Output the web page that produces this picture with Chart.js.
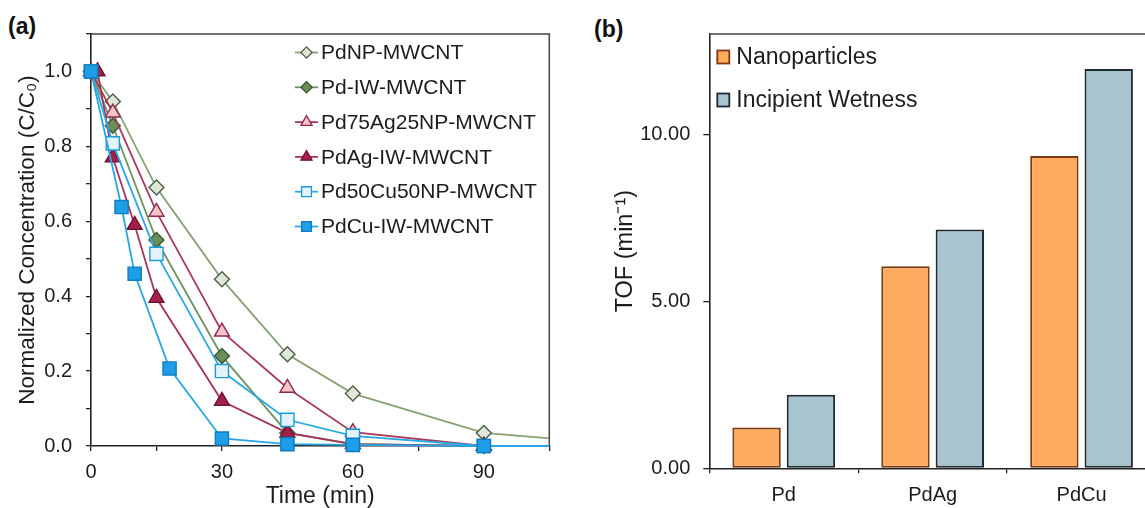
<!DOCTYPE html>
<html>
<head>
<meta charset="utf-8">
<script src="https://cdn.jsdelivr.net/npm/chart.js@4.4.1/dist/chart.umd.min.js"></script>
<style>
  html, body { margin: 0; padding: 0; background: #fff; overflow: hidden; }
  body { width: 1145px; height: 508px; position: relative; font-family: "Liberation Sans", Arial, sans-serif; }
  .panel { position: absolute; top: 0; height: 508px; }
  #left { left: 0; width: 560px; }
  #right { left: 560px; width: 600px; }
  .tag { position: absolute; font-weight: bold; font-size: 23px; line-height: 1; color: #111; }
</style>
</head>
<body>
<div class="tag" style="left:8px;top:15px">(a)</div>
<div class="tag" style="left:594px;top:18px">(b)</div>
<div class="panel" id="left"><canvas id="conc"></canvas></div>
<div class="panel" id="right"><canvas id="tof"></canvas></div>
<script>
// (a) normalized concentration vs time
const pdNpTime = [0, 5, 15, 30, 45, 60, 90, 120];
const pdNpConc = [1.0, 0.92, 0.69, 0.445, 0.245, 0.14, 0.035, 0.006];

const pdIwTime = [0, 5, 15, 30, 45, 60, 90, 120];
const pdIwConc = [1.0, 0.855, 0.55, 0.24, 0.035, 0.005, 0, 0];

const pdAgNpTime = [0, 5, 15, 30, 45, 60, 90, 120];
const pdAgNpConc = [1.0, 0.89, 0.625, 0.305, 0.155, 0.037, 0, 0];

const pdAgIwTime = [1.5, 5, 10, 15, 30, 45, 60, 90, 120];
const pdAgIwConc = [1.0, 0.77, 0.59, 0.395, 0.12, 0.035, 0.005, 0, 0];

const pdCuNpTime = [0, 5, 15, 30, 45, 60, 90, 120];
const pdCuNpConc = [1.0, 0.808, 0.513, 0.2, 0.07, 0.027, 0, 0];

const pdCuIwTime = [0, 7, 10, 18, 30, 45, 60, 90, 120];
const pdCuIwConc = [1.0, 0.638, 0.46, 0.207, 0.02, 0.005, 0.003, 0, 0];

// (b) turnover frequency
const catalysts = ["Pd", "PdAg", "PdCu"];
const tofNanoparticles = [1.22, 6.05, 9.35];
const tofIncipientWetness = [2.2, 7.15, 11.95];

const FONT = '"Liberation Sans", Arial, sans-serif';
const INK = "#1c1c1c";

function points(xs, ys) {
  return xs.map((x, i) => ({ x, y: ys[i] }));
}

function lineSet(label, xs, ys, line, style, fill, edge, r, order) {
  return {
    label,
    data: points(xs, ys),
    borderColor: line,
    borderWidth: 1.8,
    pointStyle: style,
    pointRadius: r,
    pointHoverRadius: r,
    pointBackgroundColor: fill,
    pointBorderColor: edge,
    pointBorderWidth: 1.4,
    tension: 0,
    order,
    clip: { left: false, top: false, right: 0, bottom: false }
  };
}

// top (and right) frame lines of the plot box
const frame = {
  id: "frame",
  afterDraw(chart, args, opts) {
    const { ctx, chartArea: a } = chart;
    ctx.save();
    ctx.strokeStyle = "#444";
    ctx.lineWidth = 1.5;
    ctx.beginPath();
    ctx.moveTo(a.left, a.top);
    ctx.lineTo(a.right, a.top);
    if (opts.right) ctx.lineTo(a.right, a.bottom);
    ctx.stroke();
    ctx.restore();
  }
};

// legend with a line through each marker, drawn inside the plot
const lineLegend = {
  id: "lineLegend",
  afterDatasetsDraw(chart) {
    const ctx = chart.ctx;
    const x0 = chart.chartArea.left + 204;
    chart.data.datasets.forEach((ds, i) => {
      const y = 52.5 + i * 34.8;
      ctx.save();
      ctx.strokeStyle = ds.borderColor;
      ctx.lineWidth = 1.8;
      ctx.beginPath();
      ctx.moveTo(x0, y);
      ctx.lineTo(x0 + 23, y);
      ctx.stroke();
      ctx.fillStyle = ds.pointBackgroundColor;
      ctx.strokeStyle = ds.pointBorderColor;
      ctx.lineWidth = 1.3;
      Chart.helpers.drawPoint(ctx, {
        pointStyle: ds.pointStyle,
        radius: ds.pointRadius * 0.75,
        rotation: 0,
        borderWidth: 1.3
      }, x0 + 11.5, y);
      ctx.fillStyle = INK;
      ctx.font = "21px " + FONT;
      ctx.textBaseline = "middle";
      ctx.fillText(ds.label, x0 + 26, y + 1);
      ctx.restore();
    });
  }
};

const barLegend = {
  id: "barLegend",
  afterDraw(chart) {
    const ctx = chart.ctx;
    const x0 = chart.chartArea.left + 8;
    chart.data.datasets.forEach((ds, i) => {
      const y = 57 + i * 43;
      ctx.save();
      ctx.fillStyle = ds.backgroundColor;
      ctx.strokeStyle = ds.borderColor;
      ctx.lineWidth = 1.8;
      ctx.fillRect(x0, y - 6.5, 12, 13);
      ctx.strokeRect(x0, y - 6.5, 12, 13);
      ctx.fillStyle = INK;
      ctx.font = "23px " + FONT;
      ctx.textBaseline = "middle";
      ctx.fillText(ds.label, x0 + 19, y + 1);
      ctx.restore();
    });
  }
};

const axisGrid = { drawOnChartArea: false, drawTicks: true, tickLength: 5, color: "#222", lineWidth: 1.3 };
const axisBorder = { color: "#222", width: 1.6 };

new Chart(document.getElementById("conc"), {
  type: "line",
  data: {
    datasets: [
      lineSet("PdNP-MWCNT", pdNpTime, pdNpConc, "#86a274", "rectRot", "#dfe7da", "#4d5e44", 7.5, 5),
      lineSet("Pd-IW-MWCNT", pdIwTime, pdIwConc, "#6f9262", "rectRot", "#6a8f5b", "#3d5734", 7.5, 4),
      lineSet("Pd75Ag25NP-MWCNT", pdAgNpTime, pdAgNpConc, "#a83a5c", "triangle", "#f7c4cc", "#8c2a48", 8.6, 3),
      lineSet("PdAg-IW-MWCNT", pdAgIwTime, pdAgIwConc, "#a5335a", "triangle", "#a3204b", "#6e1232", 8.6, 2),
      lineSet("Pd50Cu50NP-MWCNT", pdCuNpTime, pdCuNpConc, "#2aa9e2", "rect", "#e3f3fc", "#1b9ad8", 9.3, 1),
      lineSet("PdCu-IW-MWCNT", pdCuIwTime, pdCuIwConc, "#27a6e4", "rect", "#1d9ee6", "#0f7cc0", 9.3, 0)
    ]
  },
  options: {
    responsive: true,
    maintainAspectRatio: false,
    animation: false,
    layout: { padding: { left: 0, top: 34, right: 6, bottom: 0 } },
    plugins: { legend: { display: false }, tooltip: { enabled: false }, frame: { right: true } },
    scales: {
      x: {
        type: "linear",
        min: 0,
        max: 105,
        afterFit: s => { s.height = 62; },
        grid: axisGrid,
        border: axisBorder,
        ticks: {
          stepSize: 15,
          padding: 9,
          color: INK,
          font: { family: FONT, size: 20 },
          maxRotation: 0,
          autoSkip: false,
          callback: v => (v % 30 === 0 && v <= 90 ? String(v) : "")
        },
        title: {
          display: true,
          text: "Time (min)",
          color: INK,
          font: { family: FONT, size: 23, lineHeight: 1 },
          padding: { top: 0, bottom: 0 }
        }
      },
      y: {
        min: 0,
        max: 1.1,
        afterFit: s => { s.width = 91; },
        grid: axisGrid,
        border: axisBorder,
        ticks: {
          stepSize: 0.1,
          padding: 14,
          color: INK,
          font: { family: FONT, size: 20 },
          autoSkip: false,
          callback: v => {
            const k = Math.round(v * 10);
            return k % 2 === 0 && k <= 10 ? (k / 10).toFixed(1) : "";
          }
        },
        title: {
          display: true,
          text: "Normalized Concentration (C/C\u2080)",
          color: INK,
          font: { family: FONT, size: 22.5, lineHeight: 1 },
          padding: { top: 17, bottom: 0 }
        }
      }
    }
  },
  plugins: [frame, lineLegend]
});

new Chart(document.getElementById("tof"), {
  type: "bar",
  data: {
    labels: catalysts,
    datasets: [
      {
        label: "Nanoparticles",
        data: tofNanoparticles,
        backgroundColor: "#fdab5f",
        borderColor: "#7b3a12",
        borderWidth: 2,
        borderSkipped: false
      },
      {
        label: "Incipient Wetness",
        data: tofIncipientWetness,
        backgroundColor: "#a8c4cf",
        borderColor: "#1f2b33",
        borderWidth: 2,
        borderSkipped: false
      }
    ]
  },
  options: {
    responsive: true,
    maintainAspectRatio: false,
    animation: false,
    categoryPercentage: 0.73,
    barPercentage: 0.89,
    layout: { padding: { left: 0, top: 34, right: 4, bottom: 0 } },
    plugins: { legend: { display: false }, tooltip: { enabled: false }, frame: { right: false } },
    scales: {
      x: {
        afterFit: s => { s.height = 39.7; },
        grid: { ...axisGrid, offset: true },
        border: axisBorder,
        ticks: {
          padding: 10,
          color: INK,
          font: { family: FONT, size: 20 },
          maxRotation: 0
        }
      },
      y: {
        min: 0,
        max: 13,
        afterFit: s => { s.width = 149.3; },
        grid: { ...axisGrid, tickLength: 6 },
        border: axisBorder,
        ticks: {
          stepSize: 5,
          includeBounds: false,
          padding: 13,
          color: INK,
          font: { family: FONT, size: 20 },
          callback: v => v.toFixed(2)
        },
        title: {
          display: true,
          text: "TOF (min\u207b\u00b9)",
          color: INK,
          font: { family: FONT, size: 23.5, lineHeight: 1 },
          padding: { top: 54, bottom: 0 }
        }
      }
    }
  },
  plugins: [frame, barLegend]
});
</script>
</body>
</html>
